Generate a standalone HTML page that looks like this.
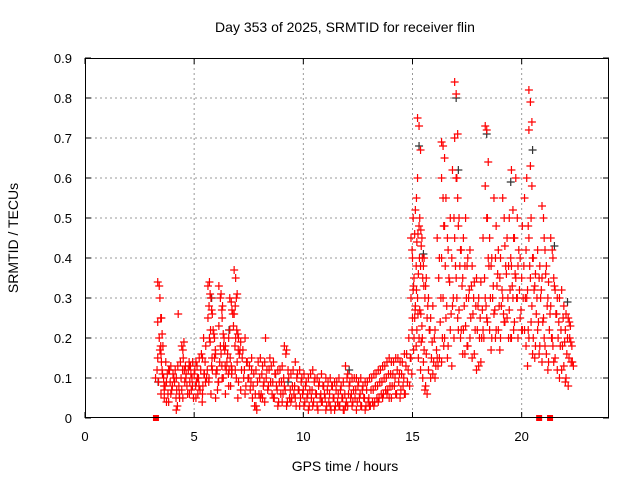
<!DOCTYPE html>
<html><head><meta charset="utf-8"><style>
body{margin:0;background:#fff}
svg{display:block;font-family:"Liberation Sans",sans-serif}
</style></head><body>
<svg id="chart" width="640" height="480">
<text x="345" y="32" text-anchor="middle" font-size="14">Day 353 of 2025, SRMTID for receiver flin</text>
<text x="345" y="471" text-anchor="middle" font-size="14">GPS time / hours</text>
<text transform="translate(18,238) rotate(-90)" text-anchor="middle" font-size="14">SRMTID / TECUs</text>
<g id="grid"></g><g id="marks"></g><g id="axes"></g>
</svg>
<script>
const xTicks=[0,5,10,15,20];
const yTicks=[0,0.1,0.2,0.3,0.4,0.5,0.6,0.7,0.8,0.9];
const hours=[3.3,3.4,3.5,3.6,3.7,3.8,4.0,4.1,4.2,4.3,4.4,4.5,4.6,4.7,4.8,4.9,5.0,5.1,5.2,5.3,5.4,5.5,5.6,5.7,5.8,5.9,6.0,6.1,6.2,6.3,6.4,6.5,6.6,6.7,6.8,6.9,7.0,7.1,7.2,7.3,7.5,7.6,7.7,7.8,8.0,8.2,8.4,8.6,8.8,9.0,9.2,9.4,9.6,9.8,10.0,10.2,10.4,10.6,10.8,11.0,11.2,11.4,11.6,11.8,12.0,12.2,12.4,12.6,12.8,13.0,13.2,13.4,13.6,13.8,14.0,14.2,14.4,14.6,14.8,14.9,15.0,15.1,15.2,15.3,15.4,15.5,15.6,15.8,16.0,16.2,16.4,16.6,16.8,17.0,17.2,17.4,17.6,17.8,18.0,18.2,18.4,18.6,18.8,19.0,19.2,19.4,19.6,19.8,20.0,20.2,20.4,20.6,20.8,21.0,21.2,21.4,21.6,21.8,22.0,22.2,22.3];
const srmtid=[[0.1,0.12,0.09],[0.34,0.33,0.25,0.24,0.2,0.18,0.15],[0.3,0.25,0.18,0.17,0.14],[0.12,0.1,0.08,0.21],[0.07,0.14,0.11,0.05],[0.09,0.06,0.12,0.04],[0.13,0.08,0.1,0.06],[0.11,0.09,0.05],[0.12,0.07,0.26],[0.03,0.08,0.14],[0.05,0.1,0.12],[0.18,0.15,0.09,0.07],[0.19,0.13,0.08],[0.11,0.06,0.14],[0.12,0.09,0.07],[0.13,0.1,0.05],[0.14,0.11,0.08],[0.12,0.09,0.06],[0.13,0.1,0.07],[0.15,0.12,0.04],[0.16,0.08,0.11],[0.2,0.14,0.1],[0.18,0.12,0.09],[0.33,0.34,0.3,0.25,0.2,0.06],[0.31,0.27,0.22,0.19,0.13],[0.26,0.21,0.17,0.12],[0.15,0.11,0.07,0.2],[0.12,0.09,0.14],[0.33,0.3,0.27,0.23,0.18,0.13],[0.31,0.28,0.2,0.16],[0.21,0.17,0.12,0.1],[0.18,0.14,0.11,0.06],[0.16,0.12,0.08],[0.3,0.29,0.26,0.22,0.13],[0.27,0.23,0.18,0.12],[0.37,0.35,0.31,0.26,0.2,0.14],[0.3,0.21,0.16,0.1,0.05],[0.2,0.17,0.12,0.09],[0.19,0.15,0.1,0.07],[0.17,0.12,0.08],[0.14,0.1,0.07],[0.13,0.09,0.05],[0.12,0.08,0.03,0.15],[0.11,0.06,0.02],[0.14,0.1,0.06],[0.13,0.09,0.2,0.05],[0.12,0.08,0.15],[0.13,0.09,0.05],[0.11,0.07,0.04],[0.12,0.09,0.06],[0.18,0.16,0.04,0.08],[0.1,0.07,0.05],[0.12,0.08,0.03],[0.11,0.07,0.05],[0.1,0.07,0.04],[0.09,0.06,0.03],[0.11,0.07,0.04],[0.1,0.06,0.02],[0.09,0.06,0.04],[0.08,0.05,0.03],[0.09,0.06,0.02],[0.08,0.05,0.03],[0.09,0.06,0.03],[0.08,0.05,0.02],[0.13,0.1,0.06,0.03],[0.09,0.06,0.04],[0.1,0.07,0.04],[0.09,0.06,0.03],[0.08,0.05,0.03],[0.09,0.05,0.03],[0.1,0.07,0.04],[0.11,0.08,0.05],[0.12,0.09,0.06],[0.13,0.1,0.07],[0.15,0.11,0.08,0.05],[0.14,0.1,0.06],[0.15,0.11,0.07],[0.14,0.1,0.06],[0.16,0.12,0.08],[0.2,0.15,0.11],[0.45,0.4,0.35,0.3,0.25,0.2,0.15],[0.5,0.46,0.38,0.32,0.25,0.18],[0.52,0.44,0.36,0.28,0.22,0.15],[0.75,0.73,0.67,0.6,0.48,0.38,0.3,0.2,0.12],[0.5,0.43,0.35,0.27,0.19,0.1],[0.45,0.38,0.3,0.23,0.14,0.07],[0.4,0.33,0.25,0.17,0.08,0.06],[0.3,0.22,0.15,0.12],[0.28,0.2,0.13,0.11],[0.45,0.35,0.24,0.15],[0.69,0.68,0.65,0.6,0.55,0.48,0.4,0.3,0.2,0.14],[0.55,0.45,0.35,0.25,0.15],[0.5,0.4,0.3,0.22,0.13],[0.84,0.81,0.71,0.7,0.6,0.55,0.45,0.35,0.25],[0.5,0.42,0.33,0.27,0.2],[0.45,0.38,0.3,0.22,0.16],[0.4,0.32,0.25,0.18],[0.38,0.3,0.22,0.15],[0.35,0.28,0.2,0.12],[0.34,0.27,0.2,0.14],[0.73,0.72,0.64,0.58,0.5,0.4,0.3,0.25],[0.45,0.38,0.3,0.22,0.17],[0.55,0.4,0.33,0.26,0.2],[0.42,0.35,0.28,0.22,0.17],[0.55,0.5,0.38,0.3,0.24],[0.45,0.38,0.32,0.25,0.2],[0.62,0.52,0.45,0.38,0.3,0.24,0.2],[0.6,0.5,0.42,0.35,0.3],[0.4,0.35,0.3,0.25,0.22],[0.55,0.42,0.32,0.22,0.18,0.13],[0.82,0.79,0.74,0.72,0.63,0.58,0.45,0.35,0.28,0.2],[0.4,0.33,0.26,0.2,0.15],[0.42,0.35,0.3,0.22,0.16],[0.53,0.5,0.42,0.35,0.25,0.18,0.14],[0.38,0.3,0.22,0.16,0.12],[0.45,0.42,0.35,0.28,0.2,0.14],[0.32,0.26,0.2,0.15],[0.3,0.22,0.18,0.1],[0.28,0.22,0.16,0.13,0.09],[0.25,0.2,0.14,0.08],[0.23,0.18,0.13]];
const hoursB=[3.55,3.9,4.25,4.55,4.85,5.15,5.45,5.75,6.05,6.35,6.65,6.95,7.4,7.9,8.1,8.3,8.5,8.7,8.9,9.1,9.3,9.5,9.7,9.9,10.1,10.3,10.5,10.7,10.9,11.1,11.3,11.5,11.7,11.9,12.1,12.3,12.5,12.7,12.9,13.1,13.3,13.5,13.7,13.9,14.1,14.3,14.5,14.7,15.05,15.25,15.45,15.7,15.9,16.1,16.3,16.5,16.7,16.9,17.1,17.3,17.5,17.7,17.9,18.1,18.3,18.5,18.7,18.9,19.1,19.3,19.5,19.7,19.9,20.1,20.3,20.5,20.7,20.9,21.1,21.3,21.5,21.7,21.9,22.1,22.25];
const srmtidB=[[0.16,0.11,0.08,0.06],[0.12,0.09,0.07,0.04],[0.1,0.13,0.06,0.02],[0.17,0.12,0.1,0.05],[0.13,0.11,0.08,0.06],[0.14,0.1,0.08,0.05],[0.15,0.11,0.09,0.06],[0.28,0.22,0.15,0.1],[0.16,0.12,0.09,0.05],[0.25,0.18,0.13,0.1],[0.2,0.15,0.11,0.08],[0.28,0.22,0.17,0.12],[0.2,0.14,0.1,0.06],[0.12,0.09,0.06,0.03],[0.15,0.11,0.08,0.05],[0.14,0.1,0.07,0.04],[0.12,0.09,0.06],[0.14,0.11,0.08,0.05],[0.12,0.09,0.06,0.03],[0.13,0.1,0.07,0.04],[0.17,0.12,0.05,0.03],[0.11,0.08,0.06,0.04],[0.14,0.1,0.07,0.05],[0.12,0.09,0.06,0.03],[0.11,0.08,0.05,0.03],[0.1,0.07,0.05,0.02],[0.12,0.09,0.06,0.03],[0.1,0.08,0.05,0.03],[0.11,0.08,0.06,0.04],[0.1,0.07,0.04,0.02],[0.1,0.08,0.05,0.03],[0.09,0.07,0.04,0.02],[0.1,0.07,0.05,0.03],[0.09,0.06,0.04,0.02],[0.11,0.08,0.05,0.03],[0.1,0.07,0.05,0.03],[0.1,0.08,0.05,0.02],[0.1,0.07,0.05,0.03],[0.09,0.07,0.04,0.02],[0.1,0.07,0.04,0.03],[0.11,0.08,0.05,0.03],[0.12,0.09,0.06,0.04],[0.13,0.1,0.07,0.05],[0.14,0.11,0.08,0.06],[0.14,0.11,0.08,0.05],[0.15,0.12,0.09,0.06],[0.14,0.11,0.08,0.05],[0.16,0.13,0.09,0.06],[0.42,0.33,0.27,0.22,0.17],[0.55,0.46,0.4,0.32,0.26],[0.47,0.4,0.33,0.26,0.2],[0.35,0.28,0.22,0.16],[0.25,0.19,0.14,0.1],[0.22,0.17,0.13,0.1],[0.4,0.3,0.2,0.15],[0.48,0.38,0.28,0.18],[0.42,0.34,0.26,0.18],[0.62,0.5,0.38,0.28,0.2],[0.6,0.48,0.38,0.3,0.22],[0.42,0.35,0.28,0.22,0.16],[0.5,0.38,0.3,0.23,0.18],[0.42,0.33,0.26,0.2],[0.34,0.28,0.22,0.16],[0.3,0.25,0.2,0.13],[0.45,0.35,0.28,0.22],[0.5,0.38,0.3,0.24],[0.4,0.33,0.27,0.2],[0.48,0.36,0.28,0.22],[0.4,0.32,0.26,0.2],[0.43,0.36,0.3,0.24],[0.5,0.4,0.33,0.27,0.2],[0.45,0.36,0.3,0.22],[0.38,0.32,0.27,0.2],[0.48,0.38,0.3,0.22],[0.6,0.48,0.38,0.3,0.22],[0.5,0.4,0.32,0.24,0.16],[0.36,0.3,0.24,0.18],[0.38,0.32,0.24,0.18],[0.45,0.36,0.28,0.2],[0.34,0.26,0.2,0.14],[0.4,0.33,0.26,0.18],[0.3,0.24,0.18,0.12],[0.32,0.25,0.19,0.12],[0.26,0.2,0.15,0.1],[0.24,0.19,0.14]];
const blackHours=[3.35,5.8,6.6,9.3,12.1,15.3,15.5,17.0,17.1,18.4,19.5,20.5,21.5,22.1];
const blackValues=[0.09,0.3,0.22,0.09,0.12,0.68,0.41,0.8,0.62,0.71,0.59,0.67,0.43,0.29];
const gapHours=[3.25,20.8,21.3];
const NS='http://www.w3.org/2000/svg';
const L=85,R=609,T=58,B=418;
const xs=h=>L+(h/24)*(R-L);
const ys=v=>B-(v/0.9)*(B-T);
function mk(tag,attrs,parent){const e=document.createElementNS(NS,tag);for(const k in attrs)e.setAttribute(k,attrs[k]);parent.appendChild(e);return e;}
const grid=document.getElementById('grid'),marks=document.getElementById('marks'),axes=document.getElementById('axes');
xTicks.forEach(t=>{
 if(t>0){const g=mk('line',{x1:xs(t),x2:xs(t),y1:T,y2:B,stroke:'#999','stroke-dasharray':'2,3','stroke-width':1},grid);
 
 }
 mk('line',{x1:xs(t),x2:xs(t),y1:B,y2:B-6,stroke:'#000'},axes);
 mk('line',{x1:xs(t),x2:xs(t),y1:T,y2:T+6,stroke:'#000'},axes);
 const tx=mk('text',{x:xs(t),y:B+23,'text-anchor':'middle','font-size':13},axes);tx.textContent=t;
 
 
});
yTicks.forEach(t=>{
 if(t>0&&t<0.9){const g=mk('line',{x1:L,x2:R,y1:ys(t),y2:ys(t),stroke:'#999','stroke-dasharray':'2,3','stroke-width':1},grid);
 
 }
 mk('line',{x1:L,x2:L+6,y1:ys(t),y2:ys(t),stroke:'#000'},axes);
 mk('line',{x1:R,x2:R-6,y1:ys(t),y2:ys(t),stroke:'#000'},axes);
 const tx=mk('text',{x:L-13,y:ys(t)+5,'text-anchor':'end','font-size':13},axes);tx.textContent=(t===0?'0':t.toFixed(1));
 
 
});
const frame=mk('rect',{x:L+0.5,y:T+0.5,width:R-L-1,height:B-T-1,fill:'none',stroke:'#000'},axes);


function plus(x,y,c){const p=mk('path',{d:`M${x-4},${y}h8M${x},${y-4}v8`,stroke:c,'stroke-width':1.2,fill:'none'},marks);return p;}
blackHours.forEach((h,i)=>{const p=plus(xs(h),ys(blackValues[i]),'#333');
 
 });
function drawSeries(hs,vals){hs.forEach((h,i)=>{vals[i].forEach((v,j)=>{const dx=(j%3-1)*1.5;const p=plus(xs(h)+dx,ys(v),'#f00');
 
 });});}
drawSeries(hours,srmtid);
drawSeries(hoursB,srmtidB);
gapHours.forEach(h=>{const r=mk('rect',{x:xs(h)-3,y:B-3,width:6,height:6,fill:'#f00'},marks);
 
 });
</script>
</body></html>
